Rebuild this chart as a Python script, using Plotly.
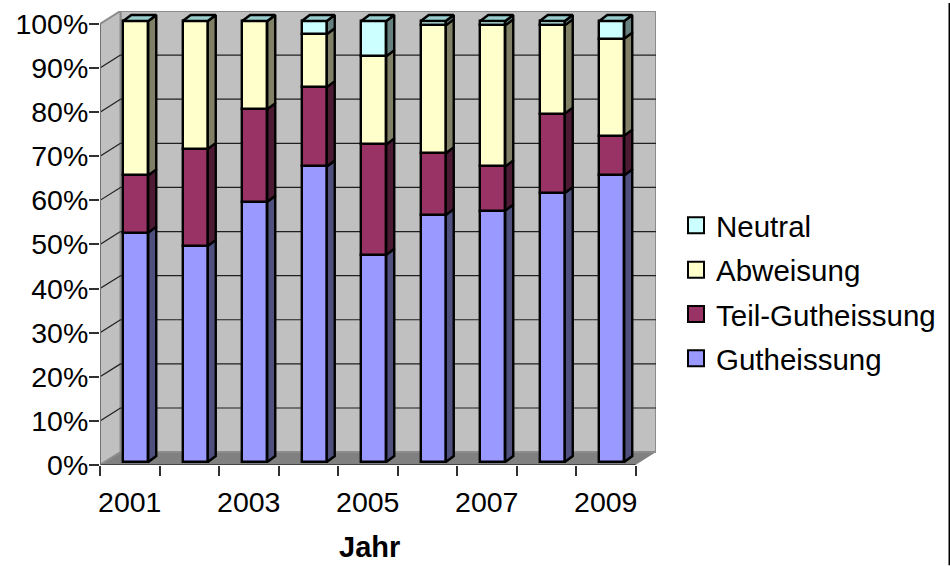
import plotly.graph_objects as go

years = ["2001","2002","2003","2004","2005","2006","2007","2008","2009"]
gutheissung = [52,49,59,67,47,56,57,61,65]
teil_gutheissung = [13,22,21,18,25,14,10,18,9]
abweisung = [35,29,20,12,20,29,32,20,22]
neutral = [0,0,0,3,8,1,1,1,4]

series = [
    ("Gutheissung", gutheissung, "#9999ff", "#50507f"),
    ("Teil-Gutheissung", teil_gutheissung, "#993366", "#4d1a33"),
    ("Abweisung", abweisung, "#ffffcc", "#808066"),
    ("Neutral", neutral, "#ccffff", "#668080"),
]
top_color = "#99cccc"
FONT = "Liberation Sans, Arial, sans-serif"

# pseudo-3D geometry, in axis units
PX_X, PX_Y = 59.5, 4.44
wall_dx, wall_dy = 20.5 / PX_X, 13 / PX_Y
bar_dx, bar_dy = 8 / PX_X, 6 / PX_Y
shift_x, shift_y = 6 / PX_X, 3 / PX_Y
bar_w = 25 / PX_X
n = len(years)
x_max = n + wall_dx
y_max = 100 + wall_dy
EDGE = 2.4

fig = go.Figure()

def path(pts):
    return "M" + "L".join(f"{a},{b}" for a, b in pts) + "Z"

shapes = [
    dict(type="path", path=path([(0,0),(wall_dx,wall_dy),(n+wall_dx,wall_dy),(n,0)]),
         fillcolor="#808080", line=dict(width=0), layer="below"),
    dict(type="path", path=path([(wall_dx,wall_dy),(wall_dx,y_max),(x_max,y_max),(x_max,wall_dy)]),
         fillcolor="#c0c0c0", line=dict(color="#8c8c8c", width=2), layer="below"),
    dict(type="path", path=path([(0,0),(0,100),(wall_dx,y_max),(wall_dx,wall_dy)]),
         fillcolor="#c0c0c0", line=dict(color="#8c8c8c", width=2), layer="below"),
]
for v in range(10, 100, 10):
    for x0, y0, x1, y1 in [(0, v, wall_dx, v + wall_dy), (wall_dx, v + wall_dy, x_max, v + wall_dy)]:
        shapes.append(dict(type="line", x0=x0, y0=y0, x1=x1, y1=y1,
                           line=dict(color="#202020", width=1.2), layer="below"))
# front axis lines
shapes.append(dict(type="line", x0=0, y0=0, x1=n, y1=0, line=dict(color="#303030", width=1.5), layer="below"))
shapes.append(dict(type="line", x0=0, y0=0, x1=0, y1=100, line=dict(color="#707070", width=2), layer="below"))
# right edge of the picture frame
shapes.append(dict(type="line", xref="paper", yref="paper", x0=(949.5 - 100) / 556, x1=(949.5 - 100) / 556,
                   y0=-101 / 457, y1=465 / 457, line=dict(color="black", width=2)))

centers = [i + 0.5 + shift_x for i in range(n)]
cum = [shift_y] * n
for name, vals, color, dark in series:
    fig.add_trace(go.Bar(x=centers, y=vals, base=cum, width=bar_w, marker=dict(color=color, line=dict(color="black", width=EDGE)),
                         showlegend=False, name=name))
    sx, sy = [], []
    for i in range(n):
        r = centers[i] + bar_w / 2
        b, t = cum[i], cum[i] + vals[i]
        sx += [r, r + bar_dx, r + bar_dx, r, r, None]
        sy += [b, b + bar_dy, t + bar_dy, t, b, None]
    fig.add_trace(go.Scatter(x=sx, y=sy, mode="lines", fill="toself", fillcolor=dark,
                             line=dict(color="black", width=EDGE), showlegend=False, hoverinfo="skip"))
    cum = [c + v for c, v in zip(cum, vals)]

tx, ty = [], []
for i in range(n):
    l, r = centers[i] - bar_w / 2, centers[i] + bar_w / 2
    t = cum[i]
    tx += [l, l + bar_dx, r + bar_dx, r, l, None]
    ty += [t, t + bar_dy, t + bar_dy, t, t, None]
fig.add_trace(go.Scatter(x=tx, y=ty, mode="lines", fill="toself", fillcolor=top_color,
                         line=dict(color="black", width=EDGE), showlegend=False, hoverinfo="skip"))

# legend entries, top to bottom
for name, vals, color, dark in reversed(series):
    fig.add_trace(go.Scatter(x=[None], y=[None], mode="markers", name=name, legendgroup=name,
                             marker=dict(symbol="square", size=16, color=color, line=dict(color="black", width=2))))

# second x axis carries the year labels between the tick marks
fig.add_trace(go.Scatter(x=[None], y=[None], xaxis="x2", showlegend=False, hoverinfo="skip"))

fig.update_layout(
    width=950, height=566, autosize=False,
    margin=dict(l=100, r=294, t=8, b=101, pad=0),
    paper_bgcolor="white", plot_bgcolor="white",
    barmode="overlay", bargap=0,
    shapes=shapes,
    font=dict(family=FONT, size=28.5, color="black"),
    xaxis=dict(range=[0, x_max], tickvals=list(range(n + 1)), ticktext=[""] * (n + 1), ticks="outside", ticklen=10,
               tickwidth=1.5, tickcolor="#303030", showgrid=False, zeroline=False, showline=False),
    xaxis2=dict(range=[0, x_max], overlaying="x", side="bottom", tickvals=[i + 0.5 for i in range(0, n, 2)],
                ticktext=years[::2], ticks="outside", ticklen=12, tickcolor="rgba(0,0,0,0)", showgrid=False, zeroline=False, showline=False),
    yaxis=dict(range=[0, y_max], tickvals=list(range(0, 101, 10)), ticktext=[f"{v}%" for v in range(0, 101, 10)],
               ticks="outside", ticklen=10, tickwidth=1.5, tickcolor="#303030", showgrid=False, zeroline=False, showline=False,
               ticklabelstandoff=-5),
    legend=dict(x=(676 - 100) / 556, xref="paper", y=(465 - 291) / 457, yanchor="middle", traceorder="grouped", tracegroupgap=3,
                font=dict(size=29.5), bgcolor="rgba(0,0,0,0)"),
    annotations=[dict(text="<b>Jahr</b>", x=n / 2 + 1.5 / PX_X, xref="x", y=(465 - 548) / 457, yref="paper", xanchor="center", yanchor="middle",
                      showarrow=False, font=dict(size=29))],
)
fig.write_html("out.html", config={"displayModeBar": False}, post_script="document.body.style.margin='0';")
